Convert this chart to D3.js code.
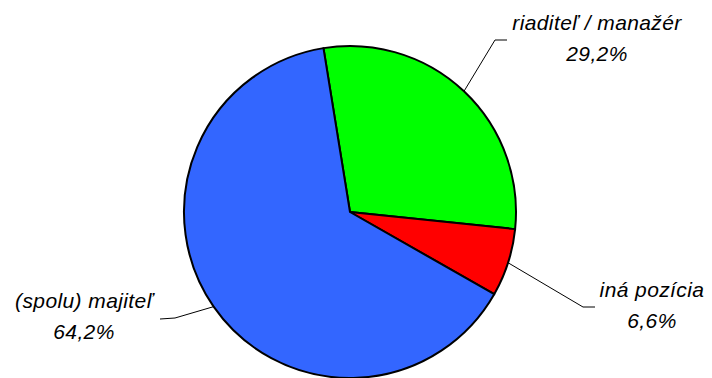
<!DOCTYPE html>
<html><head><meta charset="utf-8">
<script src="https://cdn.jsdelivr.net/npm/d3@7"></script>
<style>body{margin:0;background:#fff}svg{display:block}</style>
</head><body>
<script>
const categories = ["riaditeľ / manažér", "iná pozícia", "(spolu) majiteľ"];
const values = [29.2, 6.6, 64.2];
const valueLabels = ["29,2%", "6,6%", "64,2%"];
const colors = ["#00FF00", "#FF0000", "#3366FF"];

const W = 712, H = 378;
const cx = 350, cy = 212, R = 166;
const startDeg = -9.2;

// label layout: elbow point, end of horizontal, text center
const layout = [
  {elbow:[495,40], end:[507,40], tx:597, ty:30},
  {elbow:[583,307], end:[595,307], tx:652, ty:297},
  {elbow:[175,318], end:[160,319], tx:84, ty:308}
];

const svg = d3.select("body").append("svg").attr("width", W).attr("height", H);
const g = svg.append("g").attr("transform", `translate(${cx},${cy})`);

const pie = d3.pie().sort(null).value(d => d)
  .startAngle(startDeg * Math.PI / 180)
  .endAngle(startDeg * Math.PI / 180 + 2 * Math.PI);
const arcs = pie(values);
const arc = d3.arc().innerRadius(0).outerRadius(R);

g.selectAll("path.slice").data(arcs).join("path")
  .attr("class", "slice")
  .attr("d", arc)
  .attr("fill", (d, i) => colors[i])
  .attr("stroke", "#000")
  .attr("stroke-width", 2)
  .attr("stroke-linejoin", "round");

const edgeArc = d3.arc().innerRadius(R).outerRadius(R);
arcs.forEach((a, i) => {
  const [px, py] = edgeArc.centroid(a);
  const L = layout[i];
  svg.append("polyline")
    .attr("points", [[px + cx, py + cy], L.elbow, L.end].map(p => p.join(",")).join(" "))
    .attr("fill", "none").attr("stroke", "#000").attr("stroke-width", 1);
  const t = svg.append("text")
    .attr("x", L.tx).attr("y", L.ty)
    .attr("text-anchor", "middle")
    .attr("font-family", "'Liberation Sans', Arial, sans-serif")
    .attr("font-style", "italic")
    .attr("font-size", 21)
    .attr("letter-spacing", 0.4)
    .attr("fill", "#000");
  t.append("tspan").attr("x", L.tx).text(categories[i]);
  t.append("tspan").attr("x", L.tx).attr("dy", 31).text(valueLabels[i]);
});
</script>
</body></html>
